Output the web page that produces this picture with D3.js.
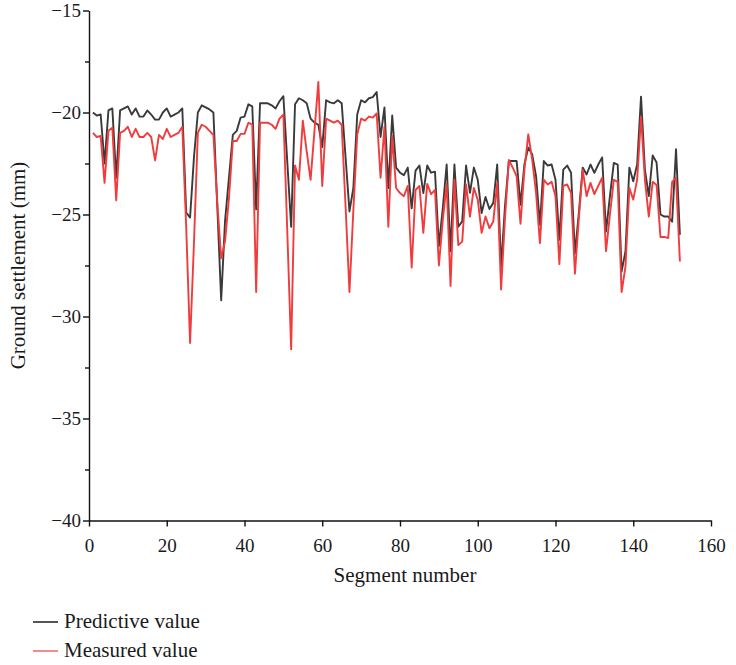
<!DOCTYPE html>
<html>
<head>
<meta charset="utf-8">
<script src="https://cdn.jsdelivr.net/npm/d3@7"></script>
<style>
  html, body { margin: 0; padding: 0; background: #fff; }
  svg { display: block; }
  text { font-family: "Liberation Serif", "DejaVu Serif", serif; fill: #1a1a1a; }
</style>
</head>
<body>
<svg id="chart" width="736" height="665"></svg>
<script>
// Segment numbers along the tunnel
const segments = d3.range(1, 153);

// Predicted ground settlement (mm)
const predictive = [
  -20.0, -20.15, -20.1, -22.5, -19.9, -19.8, -23.2, -19.9, -19.8, -19.7,
  -20.1, -19.8, -20.2, -20.2, -19.9, -20.1, -20.35, -20.35, -20.0, -19.8,
  -20.2, -20.1, -20.0, -19.8, -24.9, -25.15, -22.2, -20.0, -19.65, -19.75,
  -19.85, -20.0, -24.6, -29.2, -25.3, -23.2, -21.1, -20.9, -20.25, -20.2,
  -19.6, -19.7, -24.75, -19.55, -19.55, -19.55, -19.65, -19.8, -19.45, -19.2,
  -22.4, -25.6, -19.6, -19.3, -19.4, -19.55, -20.3, -20.5, -20.6, -21.7,
  -19.4, -19.5, -19.55, -19.4, -19.55, -22.2, -24.85, -23.7, -20.1, -19.4,
  -19.5, -19.3, -19.25, -19.0, -21.2, -19.75, -23.7, -20.15, -22.7, -22.95,
  -23.07, -22.7, -24.7, -22.85, -22.6, -23.95, -22.6, -22.95, -22.9, -26.55,
  -24.7, -22.55, -26.8, -22.55, -25.6, -25.34, -22.6, -23.94, -22.7, -23.3,
  -24.93, -24.14, -24.73, -24.43, -22.55, -27.56, -24.6, -22.38, -22.38, -22.38,
  -24.52, -22.55, -21.72, -22.05, -23.12, -25.5, -22.38, -22.6, -22.55, -23.3,
  -26.24, -22.8, -22.6, -22.95, -26.9, -24.93, -22.7, -23.04, -22.55, -22.96,
  -22.55, -22.2, -25.83, -24.1, -22.47, -22.55, -27.8, -26.8, -22.7, -23.37,
  -22.55, -19.22, -22.8, -24.1, -22.1, -22.45, -25.0, -25.1, -25.1, -25.35,
  -21.8, -26.0
];

// Measured ground settlement (mm)
const measured = [
  -21.0, -21.2, -21.15, -23.45, -20.9, -20.75, -24.3, -21.0, -20.9, -20.7,
  -21.2, -20.8, -21.2, -21.2, -21.0, -21.2, -22.35, -21.1, -21.3, -20.8,
  -21.2, -21.1, -21.0, -20.7, -25.6, -31.3, -26.4, -21.0, -20.6, -20.7,
  -20.9, -21.1, -24.4, -27.15, -26.3, -24.2, -21.4, -21.4, -21.05, -21.05,
  -20.5, -20.6, -28.8, -20.5, -20.5, -20.5, -20.6, -20.8, -20.3, -20.1,
  -25.8, -31.6, -22.6, -23.3, -20.4, -21.9, -23.3, -20.9, -18.5, -23.6,
  -20.3, -20.4, -20.5, -20.4, -20.6, -24.6, -28.8, -24.8, -21.07, -20.3,
  -20.4, -20.2, -20.25, -20.05, -23.2, -20.7, -25.6, -21.15, -23.7, -23.95,
  -24.1, -23.6, -27.6, -23.8, -23.6, -25.9, -23.5, -24.0, -23.8, -27.5,
  -25.3, -23.5, -28.5, -23.3, -26.5, -26.33, -23.53, -25.1, -23.7, -24.27,
  -25.9, -25.1, -25.67, -25.34, -23.45, -28.68, -25.2, -22.33, -22.7, -23.12,
  -25.45, -22.8, -21.07, -22.3, -23.94, -26.4, -23.3, -23.53, -23.4, -24.1,
  -27.43, -23.6, -23.53, -23.94, -27.9, -25.2, -22.8, -24.1, -23.45, -24.0,
  -23.6, -23.2, -26.8, -25.0, -23.3, -23.4, -28.8, -27.55, -23.7, -24.27,
  -23.3, -20.2, -23.3, -25.1, -23.4, -23.55, -26.1, -26.1, -26.15, -23.4,
  -23.2, -27.3
];

// Axis ticks
const xTicks = [0, 20, 40, 60, 80, 100, 120, 140, 160];
const yTicks = [-40, -37.5, -35, -32.5, -30, -27.5, -25, -22.5, -20, -17.5, -15];

const seriesNames = ["Predictive value", "Measured value"];
const seriesColors = ["#3a3a3a", "#f03c3c"];
const legendColors = ["#2a2a2a", "#ee7268"];

const svg = d3.select("#chart");

const x = d3.scaleLinear().domain([0, 160]).range([89, 711]);
const y = d3.scaleLinear().domain([-40, -15]).range([520.5, 10.5]);

const fmt = v => (v < 0 ? "\u2212" + Math.abs(v) : String(v));

// x axis
const gx = svg.append("g")
  .attr("transform", `translate(0,${y(-40)})`)
  .call(d3.axisBottom(x).tickValues(xTicks).tickFormat(fmt).tickSize(6).tickSizeOuter(0));

// y axis with labelled majors and short minors
const gy = svg.append("g")
  .attr("transform", `translate(${x(0)},0)`)
  .call(d3.axisLeft(y).tickValues(yTicks).tickSize(6).tickSizeOuter(0)
    .tickFormat(v => (v % 5 === 0 ? fmt(v) : "")));
gy.selectAll(".tick").filter(d => d % 5 !== 0).select("line").attr("x2", -4);

[gx, gy].forEach(g => {
  g.select(".domain").attr("stroke", "#111").attr("stroke-width", 1.4);
  g.selectAll(".tick line").attr("stroke", "#111").attr("stroke-width", 1.4);
  g.selectAll(".tick text")
    .style("font-family", '"Liberation Serif", serif')
    .style("font-size", "19px")
    .attr("fill", "#1a1a1a");
});
gx.selectAll(".tick text").attr("dy", "0.95em").attr("y", 13);
gy.selectAll(".tick text").attr("x", -8).attr("dy", "0.34em");

// series lines
const line = d3.line().x((d, i) => x(segments[i])).y(d => y(d));
[predictive, measured].forEach((vals, k) => {
  svg.append("path")
    .datum(vals)
    .attr("fill", "none")
    .attr("stroke", seriesColors[k])
    .attr("stroke-width", 1.9)
    .attr("stroke-linejoin", "round")
    .attr("d", line);
});

// axis titles
svg.append("text")
  .attr("x", 405)
  .attr("y", 582)
  .attr("text-anchor", "middle")
  .style("font-size", "21px")
  .text("Segment number");

svg.append("text")
  .attr("transform", `translate(25,${(y(-15) + y(-40)) / 2}) rotate(-90)`)
  .attr("text-anchor", "middle")
  .style("font-size", "21px")
  .text("Ground settlement (mm)");

// legend
const legend = svg.append("g");
seriesNames.forEach((name, k) => {
  const ly = 622 + k * 29;
  legend.append("line")
    .attr("x1", 33).attr("x2", 58)
    .attr("y1", ly).attr("y2", ly)
    .attr("stroke", legendColors[k])
    .attr("stroke-width", 1.6);
  legend.append("text")
    .attr("x", 64).attr("y", ly + 6)
    .style("font-size", "21px")
    .text(name);
});
</script>
</body>
</html>
